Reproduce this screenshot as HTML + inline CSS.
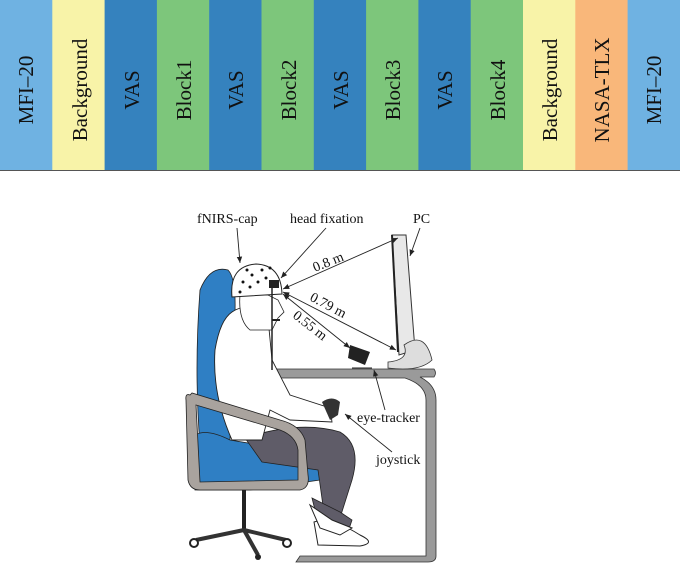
<!DOCTYPE html>
<html><head><meta charset="utf-8"><style>
body{margin:0;width:680px;height:583px;background:#fff;overflow:hidden;font-family:"Liberation Serif",serif}
</style></head><body>
<svg width="680" height="583" viewBox="0 0 680 583" xmlns="http://www.w3.org/2000/svg" font-family="Liberation Serif, serif">
<defs><marker id="a" markerWidth="8" markerHeight="8" refX="7" refY="4" orient="auto-start-reverse"><path d="M0,1 L7,4 L0,7 z" fill="#222"/></marker></defs>
<g>
<rect x="0" y="0" width="53" height="170" fill="#6fb2e2"/>
<rect x="52.3" y="0" width="53" height="170" fill="#f8f3a8"/>
<rect x="104.6" y="0" width="53" height="170" fill="#3582be"/>
<rect x="156.9" y="0" width="53" height="170" fill="#7dc67b"/>
<rect x="209.2" y="0" width="53" height="170" fill="#3582be"/>
<rect x="261.5" y="0" width="53" height="170" fill="#7dc67b"/>
<rect x="313.8" y="0" width="53" height="170" fill="#3582be"/>
<rect x="366.1" y="0" width="53" height="170" fill="#7dc67b"/>
<rect x="418.4" y="0" width="53" height="170" fill="#3582be"/>
<rect x="470.7" y="0" width="53" height="170" fill="#7dc67b"/>
<rect x="523" y="0" width="53" height="170" fill="#f8f3a8"/>
<rect x="575.3" y="0" width="53" height="170" fill="#f9b77a"/>
<rect x="627.6" y="0" width="53" height="170" fill="#6fb2e2"/>
<line x1="0" y1="170.5" x2="680" y2="170.5" stroke="#555" stroke-width="1"/>
</g>
<g font-size="21" fill="#111" text-anchor="middle">
<text transform="translate(33,90) rotate(-90)">MFI–20</text>
<text transform="translate(87,90) rotate(-90)">Background</text>
<text transform="translate(139,90) rotate(-90)">VAS</text>
<text transform="translate(191,90) rotate(-90)">Block1</text>
<text transform="translate(243,90) rotate(-90)">VAS</text>
<text transform="translate(296,90) rotate(-90)">Block2</text>
<text transform="translate(348,90) rotate(-90)">VAS</text>
<text transform="translate(400,90) rotate(-90)">Block3</text>
<text transform="translate(452,90) rotate(-90)">VAS</text>
<text transform="translate(505,90) rotate(-90)">Block4</text>
<text transform="translate(557,90) rotate(-90)">Background</text>
<text transform="translate(609,90) rotate(-90)">NASA-TLX</text>
<text transform="translate(661,90) rotate(-90)">MFI–20</text>
</g>
<!-- desk -->
<path d="M272,369 L434,369 Q437,373 434,377 L420,377 Q436,385 436,400 L436,556 Q436,562 428,562 L296,562 L300,556 L426,556 L426,400 Q426,385 405,378 L272,378 Z" fill="#9a9a9a" stroke="#333" stroke-width="0.8"/>
<!-- chair back -->
<path d="M200,290 Q210,265 228,270 Q238,280 234,330 L230,440 L200,445 Q194,370 200,290 Z" fill="#2f7fc4" stroke="#222" stroke-width="0.8"/>
<!-- seat -->
<path d="M190,440 Q200,425 230,440 L320,455 Q335,465 320,480 L250,490 L195,490 Z" fill="#2f7fc4" stroke="#222" stroke-width="0.8"/>
<!-- legs -->
<path d="M245,438 Q300,420 340,432 Q362,445 352,480 L340,518 L325,520 L318,470 L262,462 Z" fill="#5f5c68" stroke="#222" stroke-width="0.8"/>
<path d="M312,498 L320,530 L348,532 L352,520 L340,512 Z" fill="#5f5c68" stroke="#222" stroke-width="0.8"/>
<path d="M314,522 Q330,516 360,535 Q377,543 360,546 L318,545 Z" fill="#fff" stroke="#222"/>
<path d="M310,505 L320,528 L340,535 L352,528 L332,520 Z" fill="#fff" stroke="#222"/>
<!-- torso -->
<path d="M232,312 Q250,300 268,318 L272,360 L290,395 L330,408 L332,422 L290,420 L270,410 L262,440 L232,440 Q212,395 215,350 Q220,320 232,312 Z" fill="#fff" stroke="#222" stroke-width="0.9"/>
<!-- arm frame -->
<path d="M190,395 Q185,393 186,400 L188,480 Q190,490 200,490 L300,490 Q310,488 308,475 L305,440 Q300,425 280,420 L192,393 Z M196,405 L280,430 Q296,436 298,450 L298,480 L200,482 Z" fill="#a9a39e" fill-rule="evenodd" stroke="#222" stroke-width="0.8"/>
<!-- chair base -->
<rect x="242" y="490" width="4" height="40" fill="#222"/>
<path d="M244,530 L196,540 M244,530 L286,540 M244,530 L258,555" stroke="#333" stroke-width="4"/>
<circle cx="194" cy="543" r="4" fill="#fff" stroke="#222" stroke-width="2"/>
<circle cx="287" cy="543" r="4" fill="#fff" stroke="#222" stroke-width="2"/>
<circle cx="258" cy="557" r="3" fill="#222"/>
<!-- head -->
<path d="M240,295 L268,295 L278,300 L284,312 L278,318 L272,330 L250,330 Q238,320 240,295 Z" fill="#fff" stroke="#222" stroke-width="0.8"/>
<path d="M232,297 Q229,266 256,264 Q281,265 282,294 Z" fill="#fff" stroke="#222"/>
<g fill="#111"><circle cx="243" cy="282" r="1.5"/><circle cx="252" cy="275" r="1.5"/><circle cx="262" cy="270" r="1.5"/><circle cx="240" cy="292" r="1.5"/><circle cx="250" cy="287" r="1.5"/><circle cx="258" cy="282" r="1.5"/><circle cx="266" cy="278" r="1.5"/><circle cx="270" cy="268" r="1.5"/><circle cx="247" cy="270" r="1.5"/></g>
<!-- head fixation -->
<rect x="269" y="280" width="10" height="8" fill="#222"/>
<line x1="272" y1="288" x2="272" y2="370" stroke="#222" stroke-width="1.5"/>
<line x1="272" y1="320" x2="280" y2="320" stroke="#222" stroke-width="2"/>
<!-- joystick -->
<path d="M322,402 Q332,395 340,402 L338,415 L330,420 Z" fill="#333"/>
<!-- monitor -->
<path d="M392,235 L406,235 L415,350 L399,355 Z" fill="#e8e8e8" stroke="#333"/>
<path d="M392,235 L398,352" stroke="#222" stroke-width="2"/>
<path d="M404,345 Q425,330 432,360 Q420,372 388,368 L388,362 Q410,360 404,345 Z" fill="#ddd" stroke="#333" stroke-width="0.8"/>
<!-- eye tracker -->
<path d="M350,345 L370,352 L365,365 L348,358 Z" fill="#222"/>
<line x1="352" y1="368" x2="372" y2="368" stroke="#222"/>
<!-- arrows -->
<g stroke="#222" stroke-width="0.9" fill="none">
<line x1="283" y1="289" x2="398" y2="238" marker-start="url(#a)" marker-end="url(#a)"/>
<line x1="283" y1="292" x2="396" y2="350" marker-start="url(#a)" marker-end="url(#a)"/>
<line x1="283" y1="294" x2="350" y2="348" marker-start="url(#a)" marker-end="url(#a)"/>
<line x1="237" y1="228" x2="240" y2="263" marker-end="url(#a)"/>
<line x1="326" y1="228" x2="281" y2="278" marker-end="url(#a)"/>
<line x1="420" y1="228" x2="410" y2="256" marker-end="url(#a)"/>
<line x1="385" y1="410" x2="374" y2="370" marker-end="url(#a)"/>
<line x1="392" y1="452" x2="345" y2="414" marker-end="url(#a)"/>
</g>
<g font-size="14" fill="#111">
<text x="197" y="223">fNIRS-cap</text>
<text x="290" y="223">head fixation</text>
<text x="413" y="223">PC</text>
<text transform="translate(315,272) rotate(-22)">0.8 m</text>
<text transform="translate(309,300) rotate(28)">0.79 m</text>
<text transform="translate(292,317) rotate(38)">0.55 m</text>
<text x="357" y="422">eye-tracker</text>
<text x="376" y="464">joystick</text>
</g>
</svg>
</body></html>
